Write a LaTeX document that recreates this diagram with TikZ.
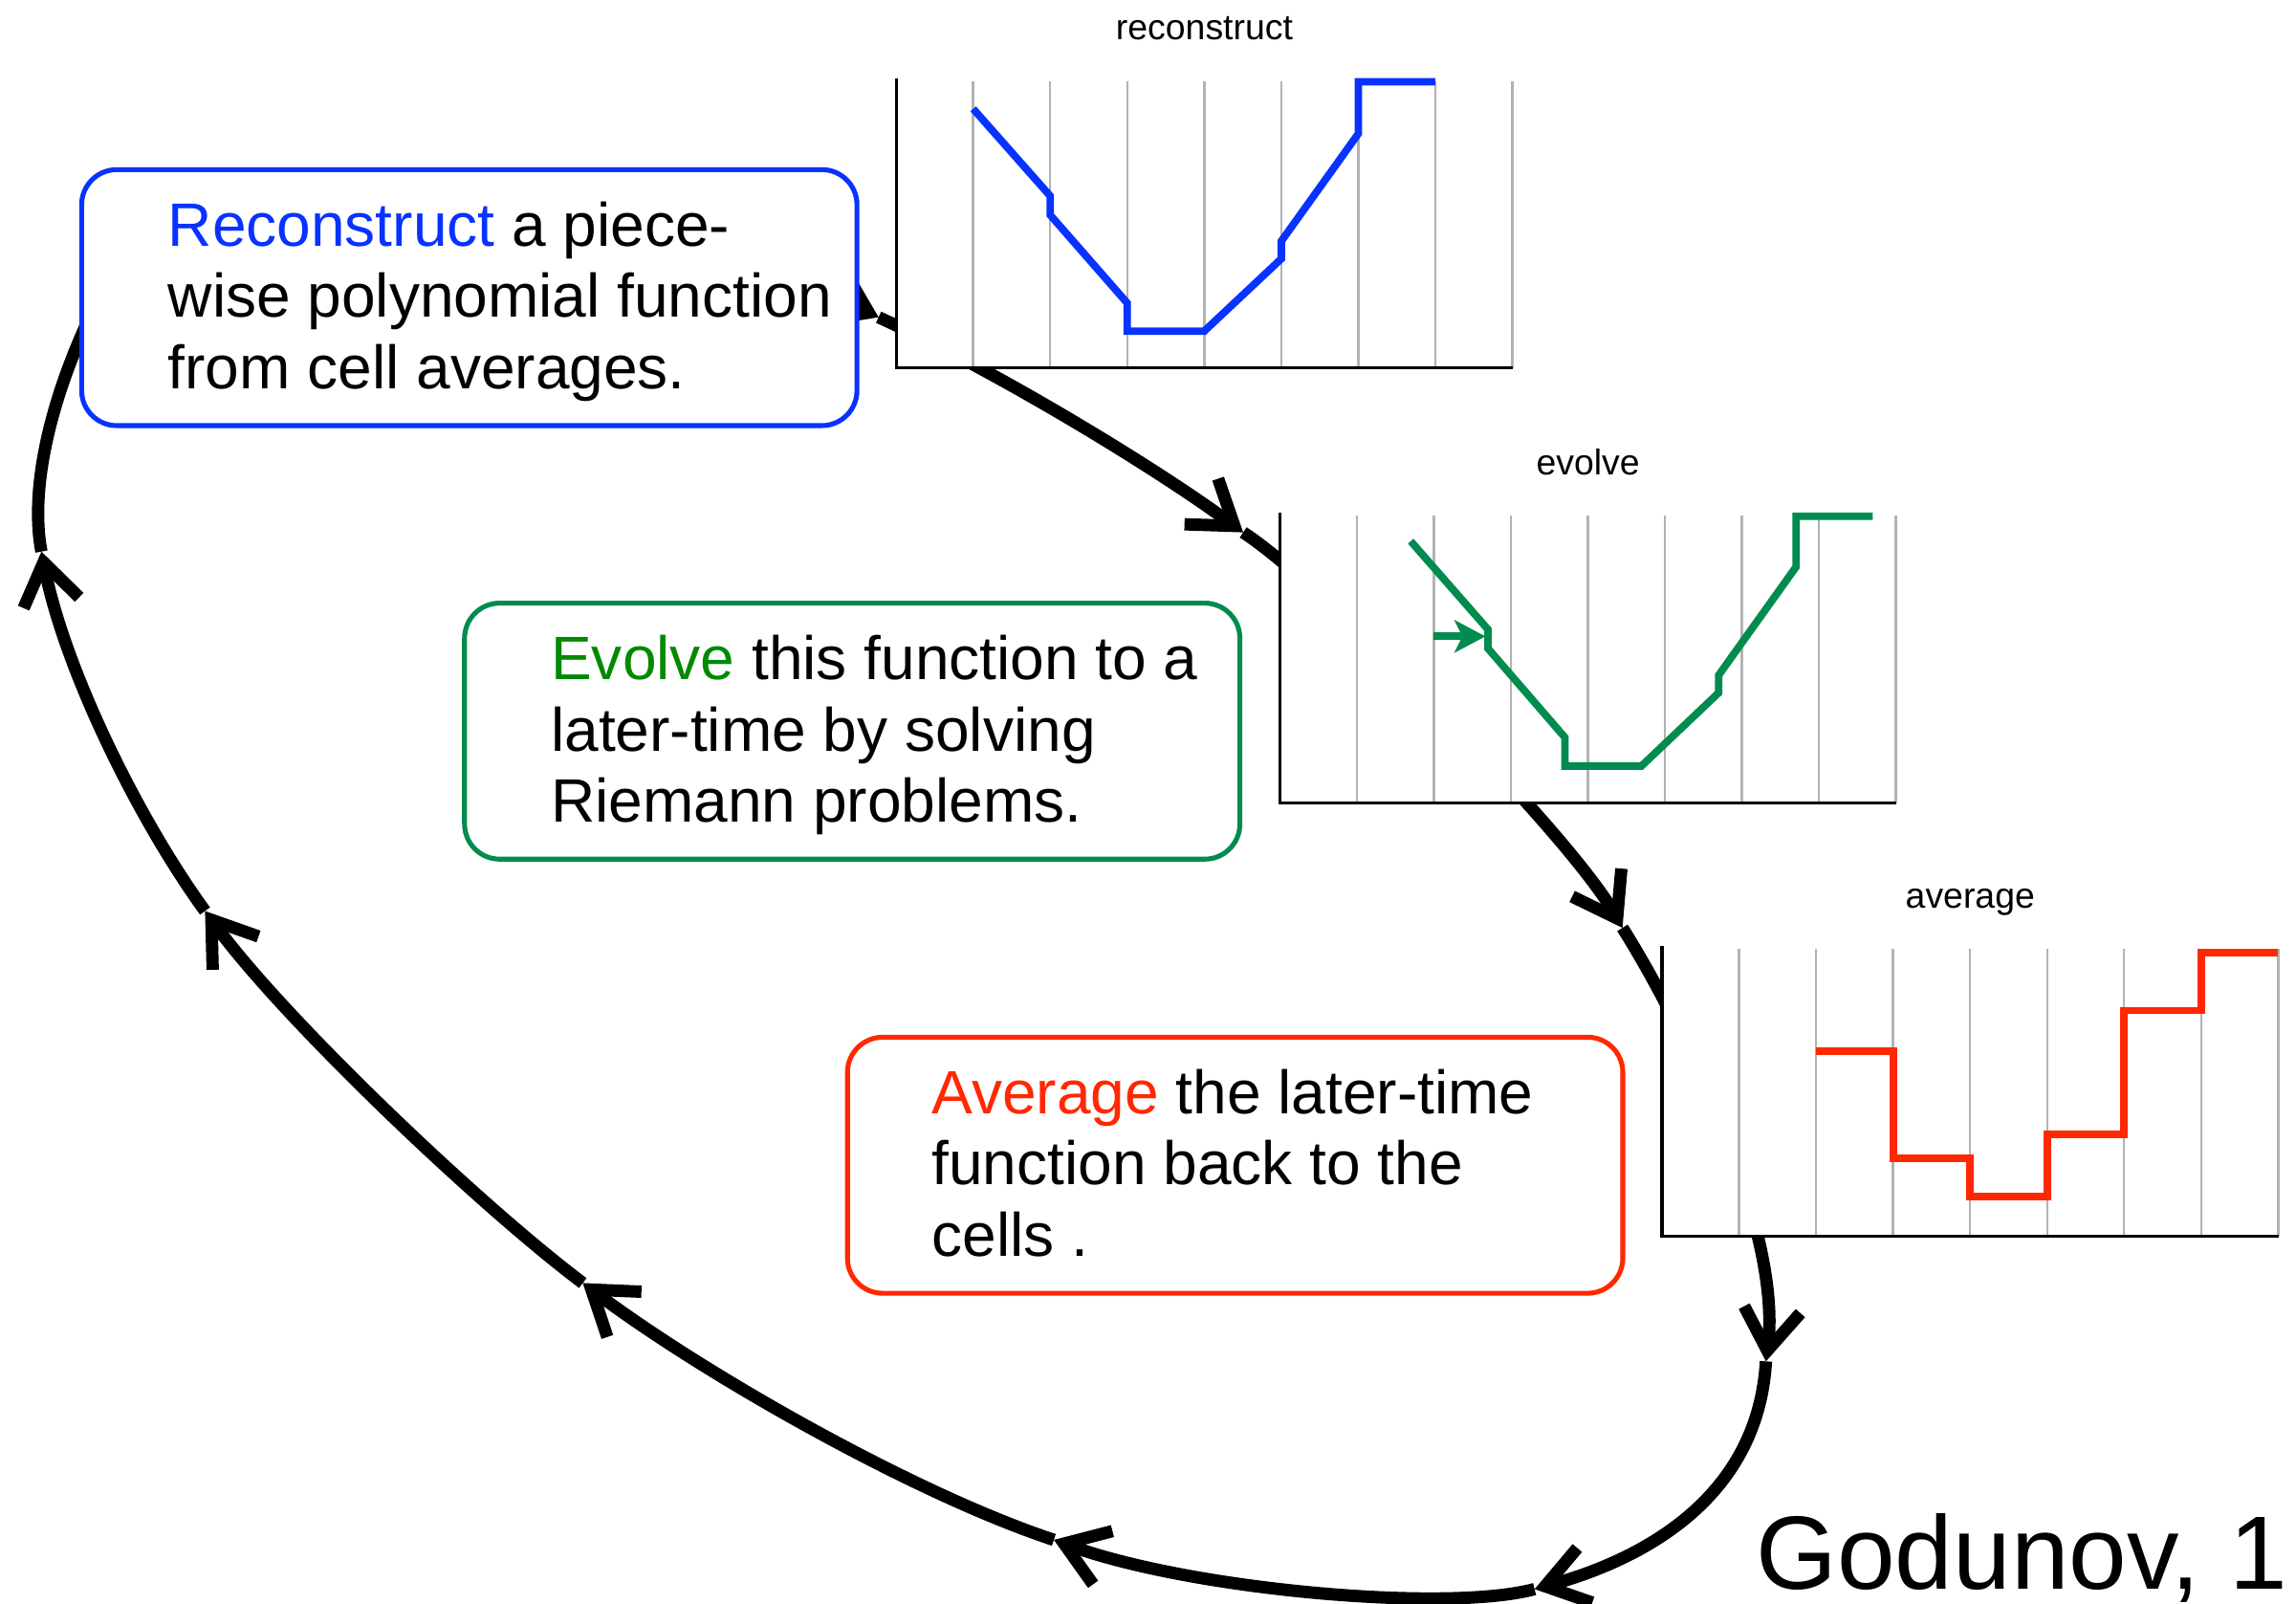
\documentclass[tikz,border=0pt]{standalone}
\usepackage{fontspec}
\setmainfont{Liberation Sans}
\usetikzlibrary{calc,arrows.meta}

\definecolor{recblue}{RGB}{8,50,255}
\definecolor{evogreen}{RGB}{0,140,78}
\definecolor{evotext}{RGB}{0,138,0}
\definecolor{avgred}{RGB}{255,40,0}
\definecolor{gridgrey}{RGB}{178,178,178}

\begin{document}
\begin{tikzpicture}[x=0.2mm, y=-0.2mm,
    flow/.style={line width=4.8pt, -{Straight Barb[sharp, length=16pt, width=22pt]}},
    stagebox/.style={draw, line width=1.9pt, rounded corners=4.8mm, fill=white,
      minimum width=105.9mm, minimum height=34.96mm, inner sep=0pt},
    stagetext/.style={anchor=base west, align=left, inner sep=0pt,
      font=\fontsize{23.8}{27.66}\selectfont},
    plottitle/.style={anchor=base, inner sep=0pt, font=\fontsize{13.9}{16}\selectfont},
    curve/.style={line width=2.9pt}]
  \useasboundingbox (0,0) rectangle (1568,1095);

  % Cycle
  \coordinate (t0) at (80,180);
  \coordinate (t1) at (600,216.6);
  \coordinate (t2) at (849,363.5);
  \coordinate (t3) at (1108,633.5);
  \coordinate (t4) at (1206,929.5);
  \coordinate (t5) at (1048,1085);
  \coordinate (t6) at (719.7,1051.4);
  \coordinate (t7) at (398,876);
  \coordinate (t8) at (140,622);
  \coordinate (t9) at (28.3,376.6);
  \draw[flow] (t0) .. controls (125,100) and (480,160) .. (t1);
  \draw[flow] (t1) .. controls (680,253) and (790,320) .. (t2);
  \draw[flow] (t2) .. controls (905,400) and (1072,570) .. (t3);
  \draw[flow] (t3) .. controls (1150,700) and (1217,840) .. (t4);
  \draw[flow] (t4) .. controls (1200,1030) and (1110,1068) .. (t5);
  \draw[flow] (t5) .. controls (988,1101) and (813.7,1085.6) .. (t6);
  \draw[flow] (t6) .. controls (622,1019) and (477.9,936.2) .. (t7);
  \draw[flow] (t7) .. controls (326,821.8) and (192.9,694.8) .. (t8);
  \draw[flow] (t8) .. controls (93,557.3) and (43.6,455.1) .. (t9);
  \draw[line width=4.8pt] (t9) .. controls (19.7,332) and (35,260) .. (t0);

  % Reconstruct plot
  \begin{scope}[shift={(612,53.3)}]
    \fill[white] (0,0) rectangle (421,198);
    \foreach \k in {1,...,8}
      \draw[gridgrey, line width=0.9pt] (52.6*\k,2) -- (52.6*\k,198);
    \draw[line width=1.2pt] (0,0) -- (0,198) -- (421,198);
    \draw[curve, recblue] (52.6,21) -- (105.2,80.5) -- (105.2,93.5) -- (157.8,153.6)
      -- (157.8,172.8) -- (210.4,172.8) -- (263,123.4) -- (263,111.4) -- (315.6,38)
      -- (315.6,2.5) -- (368.2,2.5);
    \node[plottitle] (rectitle) at (210.5,-26) {reconstruct};
  \end{scope}

  % Evolve plot
  \begin{scope}[shift={(874,350)}]
    \fill[white] (0,0) rectangle (421,198);
    \foreach \k in {1,...,8}
      \draw[gridgrey, line width=0.9pt] (52.6*\k,2) -- (52.6*\k,198);
    \draw[line width=1.2pt] (0,0) -- (0,198) -- (421,198);
    \draw[curve, evogreen] (89.4,19.5) -- (142.2,79.8) -- (142.2,92.8) -- (194.7,153.5)
      -- (194.7,173) -- (247,173) -- (299.7,123) -- (299.7,111) -- (352.6,37)
      -- (352.6,2.5) -- (405,2.5);
    \draw[curve, evogreen, -{Stealth[length=12pt, width=12.5pt, inset=3pt]}]
      (105,84.5) -- (140.5,84.5);
    \node[plottitle] (evotitle) at (210.5,-26) {evolve};
  \end{scope}

  % Average plot
  \begin{scope}[shift={(1135,646)}]
    \fill[white] (0,0) rectangle (421,198);
    \foreach \k in {1,...,8}
      \draw[gridgrey, line width=0.9pt] (52.6*\k,2) -- (52.6*\k,198);
    \draw[line width=1.2pt] (0,0) -- (0,198) -- (421,198);
    \draw[curve, avgred] (105.2,71.9) -- (157.8,71.9) -- (157.8,144.8) -- (210.4,144.8)
      -- (210.4,171) -- (263,171) -- (263,128.5) -- (315.6,128.5) -- (315.6,44)
      -- (368.2,44) -- (368.2,4.4) -- (420.8,4.4);
    \node[plottitle] (avgtitle) at (210.5,-26) {average};
  \end{scope}

  % Boxes
  \node[stagebox, draw=recblue] (recbox) at (320.5,203.2) {};
  \node[stagetext] (rectext) at ($(recbox.west)+(60.4,62.1)$)
    {\textcolor{recblue}{Reconstruct} a piece-\\wise polynomial function\\from cell averages.};
  \node[stagebox, draw=evogreen] (evobox) at (582,499.2) {};
  \node[stagetext] (evotext) at ($(evobox.west)+(60.4,62.1)$)
    {\textcolor{evotext}{Evolve} this function to a\\later-time by solving\\Riemann problems.};
  \node[stagebox, draw=avgred] (avgbox) at (843.5,795.6) {};
  \node[stagetext] (avgtext) at ($(avgbox.west)+(59,62.1)$)
    {\textcolor{avgred}{Average} the later-time\\function back to the\\cells .};

  % Credit
  \node[anchor=base west, inner sep=0pt, font=\fontsize{40.5}{46}\selectfont]
    (godunov) at (1199,1085) {Godunov, 1};
\end{tikzpicture}
\end{document}
